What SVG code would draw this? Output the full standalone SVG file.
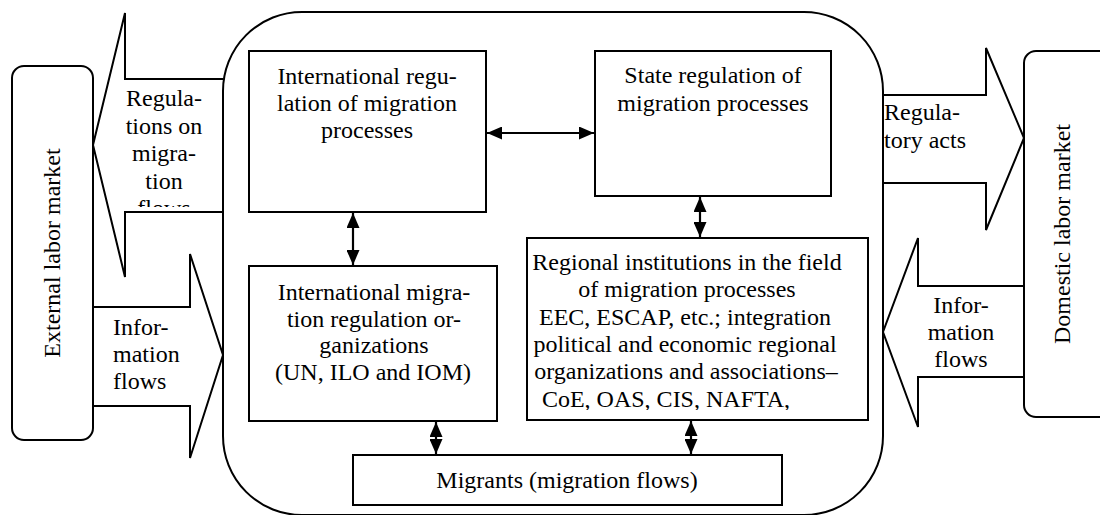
<svg xmlns="http://www.w3.org/2000/svg" width="1100" height="515" viewBox="0 0 1100 515">
<style>
.box{fill:#fff;stroke:#000;stroke-width:2}
.outer{fill:none;stroke:#000;stroke-width:2}
.blk{fill:none;stroke:#000;stroke-width:2;stroke-linejoin:miter}
text{font-family:'Liberation Serif','Times New Roman','DejaVu Serif',serif;font-size:24px;fill:#000}
.c{text-anchor:middle}
.con{stroke:#000;stroke-width:2.2;fill:none}
</style>
<defs>
<marker id="ah" viewBox="0 0 15 13" refX="15" refY="6.5" markerWidth="15" markerHeight="13" markerUnits="userSpaceOnUse" orient="auto-start-reverse">
<path d="M0,0 L15,6.5 L0,13 Z" fill="#000"/>
</marker>
<clipPath id="clipReg"><rect x="100" y="60" width="123" height="147"/></clipPath>
<clipPath id="clipRegional"><rect x="527" y="238" width="341" height="172"/></clipPath>
</defs>
<rect width="1100" height="515" fill="#fff"/>

<g id="system">
<rect class="outer" x="223" y="12" width="660" height="503" rx="79" ry="79"/>
</g>

<g id="external-market">
<rect class="box" x="12" y="66" width="81" height="374" rx="12" ry="12"/>
<text class="c" font-family="Liberation Serif, serif" transform="translate(60,253) rotate(-90)">External labor market</text>
</g>

<g id="domestic-market">
<rect class="box" x="1024" y="51" width="100" height="366" rx="12" ry="12"/>
<text class="c" font-family="Liberation Serif, serif" transform="translate(1070,234) rotate(-90)">Domestic labor market</text>
</g>

<g id="flows" font-family="Liberation Serif, serif">
<g id="flow-regulations-out">
<polyline class="blk" points="223,79 125,79 125,13 93,145 125,277 125,212 223,212"/>
<g clip-path="url(#clipReg)">
<text class="c" x="164" y="106">Regula-</text>
<text class="c" x="164" y="133.5">tions on</text>
<text class="c" x="164" y="161">migra-</text>
<text class="c" x="164" y="188.5">tion</text>
<text class="c" x="164" y="216">flows</text>
</g>
</g>
<g id="flow-info-in-left">
<polyline class="blk" points="93,307 190,307 190,254 223,355 190,458 190,406 93,406"/>
<text x="113" y="335">Infor-</text>
<text x="113" y="362">mation</text>
<text x="113" y="389">flows</text>
</g>
<g id="flow-regulatory-acts">
<polyline class="blk" points="883,95 986,95 986,48 1024,138 986,230 986,183 883,183"/>
<text x="884" y="120">Regula-</text>
<text x="884" y="148">tory acts</text>
</g>
<g id="flow-info-in-right">
<polyline class="blk" points="1024,286 918,286 918,238 883,332 918,427 918,377 1024,377"/>
<text class="c" x="961" y="313">Infor-</text>
<text class="c" x="961" y="340">mation</text>
<text class="c" x="961" y="367">flows</text>
</g>
</g>

<g id="intl-regulation">
<rect class="box" x="249" y="51" width="237" height="161"/>
<text class="c" x="367" y="84">International regu-</text>
<text class="c" x="367" y="111">lation of migration</text>
<text class="c" x="367" y="138">processes</text>
</g>

<g id="state-regulation">
<rect class="box" x="595" y="51" width="236" height="145"/>
<text class="c" x="713" y="83">State regulation of</text>
<text class="c" x="713" y="111">migration processes</text>
</g>

<g id="intl-organizations">
<rect class="box" x="249" y="266" width="248" height="155"/>
<text class="c" x="374" y="300">International migra-</text>
<text class="c" x="374" y="327">tion regulation or-</text>
<text class="c" x="374" y="353">ganizations</text>
<text class="c" x="373" y="380">(UN, ILO and IOM)</text>
</g>

<g id="regional-institutions">
<rect class="box" x="527" y="238" width="341" height="182"/>
<g clip-path="url(#clipRegional)">
<text class="c" x="687" y="270">Regional institutions in the field</text>
<text class="c" x="687" y="297">of migration processes</text>
<text class="c" x="685" y="325">EEC, ESCAP, etc.; integration</text>
<text class="c" x="685" y="352">political and economic regional</text>
<text class="c" x="686" y="379">organizations and associations–</text>
<text class="c" x="666" y="407">CoE, OAS, CIS, NAFTA,</text>
</g>
</g>

<g id="migrants">
<rect class="box" x="353" y="455" width="429" height="50"/>
<text class="c" x="567" y="488">Migrants (migration flows)</text>
</g>

<g id="connectors">
<line class="con" x1="487" y1="133" x2="594" y2="133" marker-start="url(#ah)" marker-end="url(#ah)"/>
<line class="con" x1="353" y1="213" x2="353" y2="265" marker-start="url(#ah)" marker-end="url(#ah)"/>
<line class="con" x1="700" y1="197" x2="700" y2="237" marker-start="url(#ah)" marker-end="url(#ah)"/>
<line class="con" x1="436" y1="422" x2="436" y2="454" marker-start="url(#ah)" marker-end="url(#ah)"/>
<line class="con" x1="691" y1="421" x2="691" y2="454" marker-start="url(#ah)" marker-end="url(#ah)"/>
</g>
</svg>
